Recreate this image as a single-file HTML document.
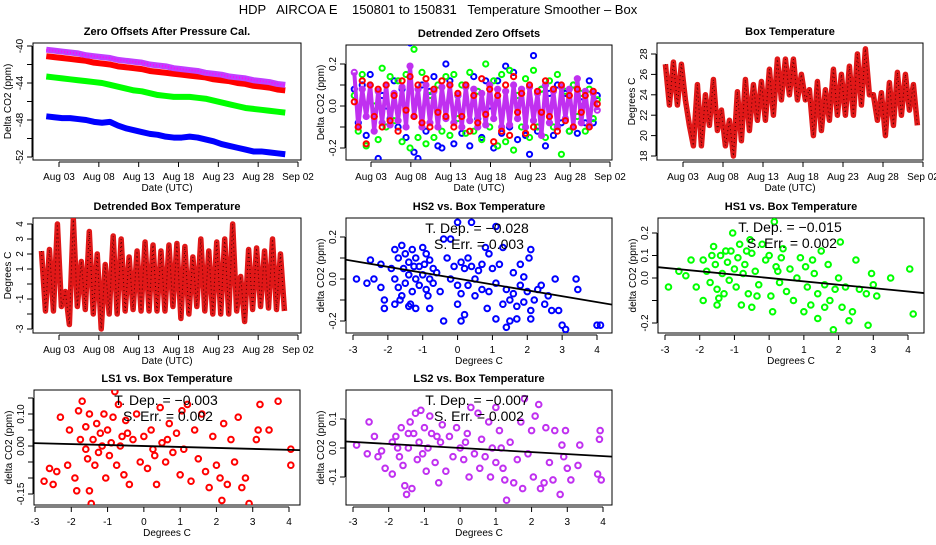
<!DOCTYPE html>
<html><head><meta charset="utf-8"><style>
body{margin:0;background:#fff;width:936px;height:540px;overflow:hidden}
svg text{font-family:"Liberation Sans",sans-serif}
</style></head><body>
<svg id="chart" width="936" height="540" viewBox="0 0 936 540" xmlns="http://www.w3.org/2000/svg">
<rect width="936" height="540" fill="#fff"/>
<text x="438" y="14" font-size="13" text-anchor="middle" xml:space="preserve">HDP   AIRCOA E    150801 to 150831   Temperature Smoother – Box</text>
</svg>
<script>
// ---- Panel 1: zero offsets (daily values, day 1..31)
const zoDays = [1,2,3,4,5,6,7,8,9,10,11,12,13,14,15,16,17,18,19,20,21,22,23,24,25,26,27,28,29,30,31];
const zoBlue = [-47.6,-47.7,-47.8,-47.8,-47.9,-48.0,-48.2,-48.3,-48.2,-48.6,-48.9,-49.1,-49.3,-49.5,-49.6,-49.8,-49.9,-49.9,-49.8,-49.9,-50.1,-50.3,-50.6,-50.8,-51.0,-51.2,-51.4,-51.4,-51.5,-51.6,-51.7];
const zoGreen = [-43.3,-43.4,-43.5,-43.6,-43.7,-43.8,-43.9,-44.0,-44.2,-44.4,-44.6,-44.8,-44.9,-45.1,-45.3,-45.4,-45.5,-45.5,-45.5,-45.6,-45.7,-45.9,-46.1,-46.3,-46.5,-46.7,-46.8,-46.9,-47.0,-47.1,-47.2];
const zoRed = [-41.1,-41.2,-41.3,-41.4,-41.5,-41.6,-41.8,-41.9,-42.0,-42.2,-42.3,-42.4,-42.5,-42.7,-42.8,-42.9,-43.0,-43.1,-43.2,-43.3,-43.4,-43.6,-43.7,-43.8,-44.0,-44.1,-44.3,-44.4,-44.5,-44.7,-44.8];
const zoPurple = [-40.4,-40.5,-40.6,-40.7,-40.8,-41.0,-41.1,-41.2,-41.3,-41.5,-41.6,-41.7,-41.8,-42.0,-42.1,-42.2,-42.4,-42.5,-42.6,-42.7,-42.9,-43.0,-43.1,-43.3,-43.4,-43.5,-43.7,-43.8,-43.9,-44.1,-44.2];
// ---- Panel 2: detrended zero offsets (half-day samples)
const dzBlue = [0.08,-0.08,0.1,-0.14,0.15,-0.05,-0.25,0.05,0.0,-0.06,0.12,-0.1,0.08,-0.15,0.3,-0.22,-0.25,0.1,-0.12,0.07,0.14,-0.19,-0.2,0.2,0.12,-0.18,0.05,-0.13,0.1,-0.19,0.14,-0.06,-0.15,0.12,0.0,-0.2,0.12,-0.13,0.19,-0.1,0.16,-0.16,0.06,-0.14,-0.23,0.24,-0.12,0.08,-0.19,0.06,-0.14,0.1,-0.08,0.06,-0.12,0.1,-0.13,0.02,-0.08,0.12,-0.08,0.05];
const dzGreen = [0.05,-0.12,0.15,-0.19,0.1,0.0,-0.16,0.18,-0.1,0.14,-0.07,0.12,-0.17,0.15,-0.2,0.27,-0.15,0.16,-0.18,0.05,-0.15,0.1,-0.12,0.14,-0.14,0.15,-0.06,0.1,-0.13,0.16,-0.12,0.07,-0.16,0.2,-0.1,0.12,-0.19,0.15,-0.17,0.17,-0.21,0.05,-0.1,0.13,-0.15,0.17,-0.1,0.08,-0.15,0.12,-0.1,0.15,-0.23,0.07,-0.12,0.1,-0.05,0.06,-0.12,0.08,-0.06,0.03];
const dzRed = [0.02,-0.1,0.12,-0.18,0.1,-0.05,0.08,-0.1,0.1,-0.07,0.05,-0.12,0.12,-0.02,0.14,-0.05,0.1,-0.08,0.13,-0.1,0.08,-0.03,0.12,-0.05,0.1,-0.1,0.06,-0.05,0.1,-0.12,0.05,-0.08,0.13,-0.04,0.08,-0.17,0.05,-0.12,0.1,-0.14,0.14,-0.03,0.06,-0.13,0.1,-0.1,0.07,-0.03,0.12,-0.05,0.08,-0.12,0.1,-0.07,0.05,-0.1,0.08,-0.03,0.05,-0.1,0.07,0.01];
const dzPurple = [0.16,-0.1,0.08,-0.05,0.1,-0.12,0.07,-0.08,0.1,-0.09,0.06,-0.07,0.09,-0.1,0.19,-0.05,0.08,-0.1,0.1,-0.08,0.07,-0.1,0.09,-0.06,0.1,-0.08,0.05,-0.1,0.09,-0.07,0.08,-0.1,0.06,-0.09,0.1,-0.06,0.08,-0.1,0.07,-0.09,0.1,-0.06,0.08,-0.1,0.09,-0.07,0.06,-0.14,0.1,-0.08,0.07,-0.1,0.09,-0.06,0.08,-0.1,0.13,-0.08,0.07,-0.09,0.06,-0.02];
// ---- Panel 3: box temperature daily max/min (day 1..32)
const btHigh = [27,27.2,27,21,25,24,25.5,22.5,21.5,24.3,25.5,25,25.3,26.5,27.5,27.5,27.5,26,24.5,25.3,24.5,26.5,26,26.8,28,28.5,24,24.2,25.2,26.2,26,25];
const btLow = [23,23,23.5,19,19,21,20.5,19,18,19.5,20.5,21.5,21.5,22,23.5,24,23.5,23.5,20,20.5,21.5,22,22,22,23,24,21.5,20,21,22,22.5,21];
// ---- Panel 4: detrended box temperature daily max/min (day 1..31)
const dbHigh = [2.2,2.3,4,-0.5,4.3,1.5,3.5,2,1.3,3.2,3,1.8,2.2,2.8,2.6,2.2,2.6,2.7,2.5,1.8,3,2.2,2.8,3,4,0.5,2.3,2.4,2.2,3,2];
const dbLow = [-1.8,-1.8,-1.5,-2.7,-1.5,-1.7,-2,-3,-2,-2,-1.8,-1.7,-1.8,-1.8,-1.8,-1.8,-1.5,-2.3,-2,-1.5,-1.8,-2,-2,-2,-1.8,-2.5,-1.7,-1.5,-1.6,-1.7,-1.8];
// ---- Scatter panels
const hs2Temp = [-1.8,-1.7,-1.6,-1.5,-1.4,-1.3,-1.2,-1.1,-1.0,-0.9,-0.8,-0.7,-1.9,-1.8,-1.7,-1.6,-1.5,-1.4,-1.3,-1.2,-1.1,-1.0,-0.9,-0.8,-0.7,-0.6,-0.5,-1.55,-1.25,-0.95,-1.65,-1.35,-0.85,-2.2,-2.1,-2.1,-2.5,-2.6,-2.9,-2.4,-2.2,-1.8,-1.4,-1.2,-0.8,-0.4,-0.4,-0.3,-0.2,0,0.4,0.1,0.2,0.3,0.4,0.5,0.6,0.7,0.0,0.1,0.3,0.5,0.7,0.0,0.1,0.2,-0.1,-0.2,0.8,0.9,1.0,1.1,0.9,0.85,1.1,1.1,1.3,1.2,1.4,1.5,1.6,1.7,1.8,1.9,2.0,2.1,2.2,1.5,1.4,1.7,2.1,2.05,2.1,1.8,1.6,2.3,2.5,2.6,2.7,2.8,2.9,3.0,3.1,3.4,3.45,4.0,4.1,2.4,1.3,1.9];
const hs2Dco2 = [0.14,0.1,0.16,0.12,0.08,0.14,0.1,0.06,0.15,0.12,0.09,0.05,0.05,0.0,-0.04,-0.08,-0.02,0.02,-0.06,0.0,-0.03,0.02,-0.05,0.0,-0.02,0.03,-0.06,0.05,0.06,0.07,-0.1,-0.12,-0.08,0.07,-0.1,-0.14,0.09,-0.02,0.0,0.0,-0.04,-0.12,-0.13,-0.14,-0.14,-0.2,0.19,0.1,0.19,0.27,0.27,0.08,0.05,0.1,0.06,0.0,0.04,0.07,-0.03,-0.07,-0.03,-0.08,-0.05,-0.12,-0.2,-0.17,0.06,0.0,0.15,0.12,0.05,-0.02,-0.06,-0.14,-0.19,0.25,0.15,0.07,-0.05,-0.1,-0.07,-0.13,-0.03,-0.11,-0.06,-0.15,-0.1,-0.2,-0.23,-0.19,-0.19,0.1,0.14,0.07,0.03,-0.05,-0.12,-0.08,-0.15,0.0,-0.15,-0.22,-0.24,0.0,-0.05,-0.22,-0.22,-0.03,-0.12,0.01];
const hs2Slope = -0.028, hs2Intercept = 0.002;
const hs1Temp = [-2.9,-2.6,-2.4,-2.25,-2.1,-1.9,-1.9,-1.8,-1.7,-1.6,-1.55,-1.5,-1.5,-1.4,-1.35,-1.3,-1.2,-1.15,-1.1,-1.05,-1.0,-0.95,-0.9,-0.85,-0.8,-0.75,-0.7,-0.6,-0.55,-0.5,-0.5,-0.4,-0.3,-0.2,-0.1,0.0,0.05,0.1,0.15,0.2,0.3,0.35,0.4,0.5,0.6,0.7,0.8,0.9,1.0,1.05,1.1,1.2,1.3,1.4,1.4,1.5,1.6,1.7,1.75,1.85,1.9,2.0,2.05,2.1,2.2,2.3,2.4,2.5,2.6,2.8,2.85,2.95,3.0,3.1,3.5,4.05,4.15,-1.65,-1.25,-0.65,-1.45,-0.35,0.25,1.25,1.6];
const hs1Dco2 = [-0.04,0.03,0.01,0.08,-0.04,0.08,-0.1,0.03,-0.02,0.14,0.06,-0.05,-0.12,0.1,0.02,-0.07,0.07,-0.01,0.12,0.2,0.04,-0.04,0.09,0.15,-0.12,0.02,0.06,-0.07,0.17,0.11,-0.13,0.03,-0.03,0.15,0.08,0.1,-0.08,-0.15,0.25,0.05,-0.02,0.09,0.13,-0.06,0.04,-0.1,0.0,0.09,-0.15,0.05,-0.04,-0.12,0.02,-0.18,-0.07,0.12,-0.03,0.06,-0.1,-0.23,-0.05,0.0,0.16,-0.13,-0.04,-0.19,-0.15,0.08,-0.05,-0.07,-0.21,0.02,-0.03,-0.08,0.0,0.04,-0.16,0.1,0.12,0.12,-0.09,-0.08,0.03,0.08,-0.13];
const hs1Slope = -0.015, hs1Intercept = 0.0;
const ls1Temp = [-2.75,-2.6,-2.5,-2.4,-2.3,-2.1,-2.05,-1.9,-1.85,-1.8,-1.75,-1.7,-1.6,-1.55,-1.5,-1.5,-1.45,-1.4,-1.35,-1.3,-1.25,-1.2,-1.1,-1.05,-1.0,-0.95,-0.9,-0.85,-0.8,-0.75,-0.7,-0.6,-0.55,-0.5,-0.4,-0.3,-0.2,-0.1,0.0,0.1,0.2,0.3,0.35,0.45,0.5,0.6,0.7,0.8,0.9,1.0,1.05,1.1,1.2,1.3,1.4,1.5,1.6,1.7,1.8,1.9,2.0,2.1,2.15,2.2,2.3,2.4,2.5,2.6,2.7,2.8,2.9,3.1,3.15,3.2,3.45,3.7,4.05,4.05,-1.15,-0.65,0.25,-1.6,-0.45,0.65];
const ls1Dco2 = [-0.11,-0.07,-0.12,-0.08,0.09,-0.06,0.05,-0.1,-0.14,0.11,0.02,0.14,0.06,-0.04,0.1,-0.14,-0.18,0.02,-0.06,0.07,-0.02,0.04,0.1,-0.1,0.05,-0.03,0.01,0.09,0.17,-0.06,0.13,0.03,-0.09,0.08,-0.12,0.02,0.1,-0.05,0.03,-0.07,0.05,-0.03,-0.12,0.12,0.01,-0.05,0.07,-0.02,0.04,-0.09,0.11,-0.01,0.13,-0.11,0.05,-0.04,0.1,-0.08,-0.13,0.03,-0.06,-0.1,-0.17,0.07,-0.12,0.02,-0.05,0.09,-0.13,-0.1,-0.18,0.02,0.05,0.13,0.05,0.14,-0.01,-0.06,0.0,0.0,-0.01,-0.01,0.04,0.02];
const ls1Slope = -0.003, ls1Intercept = 0.0;
const ls2Temp = [-2.9,-2.6,-2.55,-2.4,-2.3,-2.2,-2.1,-1.9,-1.9,-1.8,-1.7,-1.65,-1.6,-1.55,-1.5,-1.45,-1.4,-1.35,-1.3,-1.25,-1.2,-1.15,-1.1,-1.0,-0.95,-0.9,-0.85,-0.8,-0.7,-0.6,-0.55,-0.5,-0.4,-0.3,-0.2,-0.1,0.0,0.1,0.2,0.25,0.3,0.4,0.5,0.55,0.6,0.7,0.8,0.85,0.9,1.0,1.0,1.1,1.2,1.25,1.3,1.4,1.5,1.6,1.7,1.75,1.8,1.9,2.0,2.05,2.1,2.2,2.25,2.35,2.4,2.5,2.6,2.65,2.8,2.85,2.9,2.95,3.0,3.1,3.3,3.35,3.85,3.9,3.92,3.95,-1.75,-1.45,-1.05,-0.65,0.15,1.15];
const ls2Dco2 = [0.01,-0.02,0.09,0.04,-0.03,-0.01,-0.07,-0.09,0.02,0.04,-0.03,0.07,-0.06,-0.13,-0.16,0.0,0.09,-0.14,0.05,0.12,-0.04,0.02,0.13,0.07,-0.08,0.0,0.11,0.05,-0.05,-0.12,0.02,0.08,-0.08,0.04,-0.03,0.07,0.0,-0.04,0.05,-0.1,0.14,-0.02,0.12,-0.07,0.03,-0.03,0.09,-0.1,0.0,0.14,-0.05,0.06,-0.07,-0.11,-0.18,0.02,-0.12,-0.04,0.09,-0.14,0.17,-0.02,0.06,-0.1,0.11,0.15,-0.14,-0.12,0.07,-0.05,-0.11,0.06,-0.16,0.01,-0.03,0.06,-0.07,-0.11,-0.06,0.01,-0.09,0.03,0.06,-0.11,0.0,0.05,-0.02,0.04,0.02,0.0];
const ls2Slope = -0.007, ls2Intercept = 0.0;
const dateTicks = [3,8,13,18,23,28,33];
const dateLabels = ["Aug 03","Aug 08","Aug 13","Aug 18","Aug 23","Aug 28","Sep 02"];

const svg = document.getElementById('chart');
const NS = 'http://www.w3.org/2000/svg';
function el(tag, attrs, parent){const e=document.createElementNS(NS,tag);for(const k in attrs)e.setAttribute(k,attrs[k]);(parent||svg).appendChild(e);return e;}
function lin(d0,d1,r0,r1){return v=>r0+(v-d0)*(r1-r0)/(d1-d0);}

function panel(name,box,title,xs,ys,xt,xl,yt,yl,xTitle,yTitle){
  const g=el('g',{});
  
  
  const r=el('rect',{x:box[0],y:box[1],width:box[2]-box[0],height:box[3]-box[1],fill:'none',stroke:'#000','stroke-width':1},g);
  
  
  const t=el('text',{x:(box[0]+box[2])/2,y:box[1]-8,'font-size':11,'font-weight':'bold','text-anchor':'middle'},g);
  t.textContent=title;
  
  
  const xa=el('g',{},g);
  
  
  const ay=box[3]+2;
  el('line',{x1:xs(xt[0]),x2:xs(xt[xt.length-1]),y1:ay,y2:ay,stroke:'#000'},xa);
  xt.forEach((v,i)=>{const x=xs(v);el('line',{x1:x,x2:x,y1:ay,y2:ay+5,stroke:'#000'},xa);
    if(xl[i]!==''){const tx=el('text',{x:x,y:ay+18,'font-size':10,'text-anchor':'middle'},xa);tx.textContent=xl[i];
    
    }});
  const xtt=el('text',{x:(box[0]+box[2])/2,y:ay+29,'font-size':10,'text-anchor':'middle'},g);xtt.textContent=xTitle;
  
  
  const ya=el('g',{},g);
  
  
  const ax=box[0]-1;
  el('line',{x1:ax,x2:ax,y1:ys(yt[0]),y2:ys(yt[yt.length-1]),stroke:'#000'},ya);
  yt.forEach((v,i)=>{const y=ys(v);el('line',{x1:ax-5,x2:ax,y1:y,y2:y,stroke:'#000'},ya);
    if(yl[i]!==''){const tx=el('text',{x:ax-9,y:y,'font-size':10,'text-anchor':'middle',transform:`rotate(-90 ${ax-9} ${y})`},ya);tx.textContent=yl[i];
    
    }});
  const cy=(box[1]+box[3])/2;
  const ytt=el('text',{x:box[0]-22,y:cy,'font-size':10,'text-anchor':'middle',transform:`rotate(-90 ${box[0]-22} ${cy})`},g);ytt.textContent=yTitle;
  
  
  const clip='clip-'+name;
  const cp=el('clipPath',{id:clip},g);el('rect',{x:box[0],y:box[1],width:box[2]-box[0],height:box[3]-box[1]},cp);
  const data=el('g',{'clip-path':`url(#${clip})`},g);
  
  
  return data;
}
function circ(g,x,y,color,r,name){const c=el('circle',{cx:x,cy:y,r:r||2.6,fill:'none',stroke:color,'stroke-width':2},g);
  
  }

// Panel 1
{const xs=lin(3,33,59,298), ys=lin(-40,-52,46,157);
 const g=panel('zero-offsets',[33,43,301,160],'Zero Offsets After Pressure Cal.',xs,ys,dateTicks,dateLabels,[-40,-42,-44,-46,-48,-50,-52],['-40','','-44','','-48','','-52'],'Date (UTC)','Delta CO2  (ppm)');
 [[zoBlue,'#0000ff','blue'],[zoGreen,'#00ff00','green'],[zoRed,'#ff0000','red'],[zoPurple,'#c040ff','purple']].forEach(s=>{
   const p=el('polyline',{points:s[0].map((v,i)=>xs(zoDays[i]+0.4)+','+ys(v)).join(' '),fill:'none',stroke:s[1],'stroke-width':6,'stroke-linejoin':'round'},g);
   
   
   if(s[2]==='purple'){const q=el('polyline',{points:s[0].map((v,i)=>xs(zoDays[i]+0.4)+','+ys(v)).join(' '),fill:'none',stroke:'#ff00ff','stroke-width':2,'stroke-dasharray':'1 2'},g);
   
   }
 });}
// Panel 2
{const xs=lin(3,33,371,610), ys=lin(0,0.2,106,64);
 const g=panel('detrended-zero',[346,45,612,160],'Detrended Zero Offsets',xs,ys,dateTicks,dateLabels,[0.2,0.1,0,-0.1,-0.2],['0.2','','0.0','','-0.2'],'Date (UTC)','Delta CO2  (ppm)');
 [[dzBlue,'#0000ff','blue'],[dzGreen,'#00ff00','green'],[dzPurple,'#c030f0','purple'],[dzRed,'#ff0000','red']].forEach(s=>{
   if(s[2]==='purple'){
     const pl=el('polyline',{points:s[0].map((v,i)=>xs(0.9+i*0.5)+','+ys(v)).join(' '),fill:'none',stroke:'#c030f0','stroke-width':4,'stroke-linejoin':'round'},g);
     
     
   }
   s[0].forEach((v,i)=>circ(g,xs(0.9+i*0.5),ys(v),s[1],2.6,'detrended-'+s[2]+'-point'));
 });}
// Panel 3
{const xs=lin(3,33,683,923), ys=lin(28,18,54,156);
 const g=panel('box-temp',[657,43,923,160],'Box Temperature',xs,ys,dateTicks,dateLabels,[18,20,22,24,26,28],['18','20','22','24','26','28'],'Date (UTC)','Degrees C');
 const pts=[];btHigh.forEach((h,i)=>{pts.push(xs(i+0.8)+','+ys(h));pts.push(xs(i+1.3)+','+ys(btLow[i]));});
 const p=el('polyline',{points:pts.join(' '),fill:'none',stroke:'#e01818','stroke-width':5.5,'stroke-linejoin':'round'},g);
 
 
 const q=el('polyline',{points:pts.join(' '),fill:'none',stroke:'#400','stroke-width':1,'stroke-dasharray':'1 3'},g);
 
 }
// Panel 4
{const xs=lin(3,33,59,298), ys=lin(4,-3,224,329);
 const g=panel('detrended-box-temp',[33,218,301,333],'Detrended Box Temperature',xs,ys,dateTicks,dateLabels,[4,3,2,1,0,-1,-2,-3],['4','3','2','1','','-1','','-3'],'Date (UTC)','Degrees C');
 const pts=[];dbHigh.forEach((h,i)=>{pts.push(xs(i+0.8)+','+ys(h));pts.push(xs(i+1.3)+','+ys(dbLow[i]));});
 const p=el('polyline',{points:pts.join(' '),fill:'none',stroke:'#e01818','stroke-width':5.5,'stroke-linejoin':'round'},g);
 
 
 const q=el('polyline',{points:pts.join(' '),fill:'none',stroke:'#400','stroke-width':1,'stroke-dasharray':'1 3'},g);
 
 }
// Scatter panels
function scatter(name,box,title,xs,ys,yt,yl,tx,ty,color,slope,icpt,tdep,serr,txt){
  const g=panel(name,box,title,xs,ys,[-3,-2,-1,0,1,2,3,4],['-3','-2','-1','0','1','2','3','4'],yt,yl,'Degrees C','delta CO2 (ppm)');
  tx.forEach((v,i)=>circ(g,xs(v),ys(ty[i]),color,2.8,name+'-point'));
  const x0=-3.5,x1=4.6;
  const l=el('line',{x1:xs(x0),y1:ys(icpt+slope*x0),x2:xs(x1),y2:ys(icpt+slope*x1),stroke:'#000','stroke-width':1.8},g);
  
  
  const a=el('text',{x:txt[0],y:txt[1],'font-size':14,'text-anchor':'middle'},svg);a.textContent='T. Dep. =  '+tdep;
  
  
  const b=el('text',{x:txt[0]+2,y:txt[1]+16,'font-size':14,'text-anchor':'middle'},svg);b.textContent='S. Err. =  '+serr;
  
  
}
scatter('hs2',[346,218,612,333],'HS2 vs. Box Temperature',lin(-3,4,353,597),lin(0,0.2,279,237),[0.2,0.1,0,-0.1,-0.2],['0.2','','0.0','','-0.2'],hs2Temp,hs2Dco2,'#0000ff',hs2Slope,hs2Intercept,'\u22120.028','0.003',[477,233]);
scatter('hs1',[658,218,924,333],'HS1 vs. Box Temperature',lin(-3,4,665,908),lin(0,0.2,278,233),[0.2,0.1,0,-0.1,-0.2],['0.2','0.1','0.0','','-0.2'],hs1Temp,hs1Dco2,'#00ff00',hs1Slope,hs1Intercept,'\u22120.015','0.002',[790,232]);
scatter('ls1',[34,390,300,505],'LS1 vs. Box Temperature',lin(-3,4,35,289),lin(0,0.1,446,414),[0.15,0.1,0.05,0,-0.05,-0.1,-0.15],['','0.10','','0.00','','','-0.15'],ls1Temp,ls1Dco2,'#ff0000',ls1Slope,ls1Intercept,'\u22120.003','0.002',[166,405]);
scatter('ls2',[346,390,612,505],'LS2 vs. Box Temperature',lin(-3,4,353,603),lin(0,0.1,448,419),[0.1,0,-0.1],['0.1','0.0','-0.1'],ls2Temp,ls2Dco2,'#c030f0',ls2Slope,ls2Intercept,'\u22120.007','0.002',[477,405]);
</script>
</body></html>
